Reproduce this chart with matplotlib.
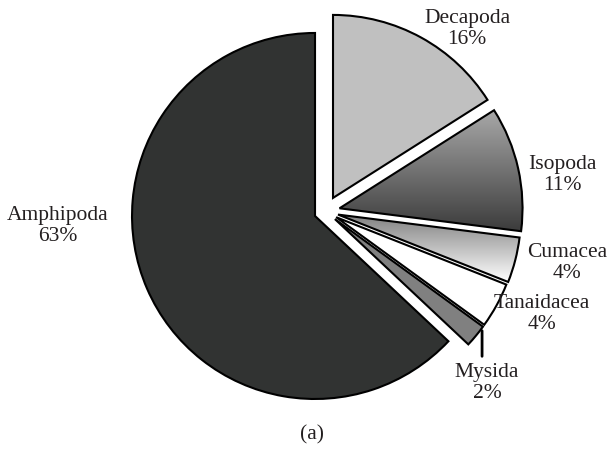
import matplotlib
matplotlib.use('Agg')
import matplotlib.pyplot as plt
import matplotlib.colors as mcolors
import numpy as np

# data
taxa = ['Decapoda', 'Isopoda', 'Cumacea', 'Tanaidacea', 'Mysida', 'Amphipoda']
shares = [16, 11, 4, 4, 2, 63]

# styling / layout
fills = ['#c0c0c0', 'none', 'none', '#ffffff', '#808080', '#313332']
gradients = {1: ('#a8a8a8', '#3c3c3c'), 2: ('#808080', '#ffffff')}  # top -> bottom
explode = [0.084, 0.078, 0.07, 0.066, 0.066, 0.063]
label_pos = [(0.773, 0.997), (1.292, 0.199), (1.319, -0.282),
             (1.183, -0.560), (0.882, -0.938), (-1.462, -0.080)]
text_color = '#231f20'

plt.rcParams['font.family'] = ['Liberation Serif', 'DejaVu Serif']

fig = plt.figure(figsize=(6.08, 4.5), dpi=100)
ax = fig.add_axes([0, 0, 1, 1])

wedges, _ = ax.pie(shares, startangle=90, counterclock=False,
                   explode=explode, colors=['white'] * len(shares),
                   wedgeprops=dict(edgecolor='black', linewidth=1.5))

for i, w in enumerate(wedges):
    if i in gradients:
        w.set_facecolor('none')
        top, bot = gradients[i]
        cmap = mcolors.LinearSegmentedColormap.from_list('g%d' % i, [bot, top])
        bb = w.get_path().get_extents(w.get_patch_transform())
        grad = np.linspace(0, 1, 256).reshape(-1, 1)
        im = ax.imshow(grad, cmap=cmap, origin='lower', aspect='auto',
                       extent=[bb.x0, bb.x1, bb.y0, bb.y1], zorder=0.5,
                       interpolation='bilinear')
        im.set_clip_path(w)
    else:
        w.set_facecolor(fills[i])

for name, pct, (lx, ly) in zip(taxa, shares, label_pos):
    ax.text(lx, ly, f'{name}\n{pct}%', ha='center', va='center',
            fontsize=15.5, color=text_color, linespacing=1.12)

# leader line to the Mysida slice
ax.annotate('', xy=(0.855, -0.637), xytext=(0.855, -0.807),
            arrowprops=dict(arrowstyle='-', lw=2, color='black'))

ax.text(-0.074, -1.221, '(a)', ha='center', va='center',
        fontsize=15.5, color=text_color)

ax.set_xlim(-325.6 / 183, (608 - 325.6) / 183)
ax.set_ylim(-238.6 / 183, (450 - 238.6) / 183)
ax.set_aspect('auto')
ax.axis('off')

fig.savefig('out.png', dpi=100, facecolor='white')
